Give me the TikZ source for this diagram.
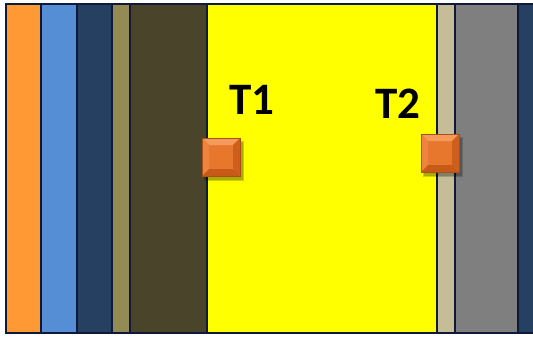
\documentclass[tikz,border=0pt]{standalone}
\usepackage{fontspec}
\newfontfamily\labelfont{Carlito}
\usepackage{tikz}
\usetikzlibrary{calc, positioning}

\definecolor{layorange}{HTML}{FF9933}
\definecolor{layblue}{HTML}{558ED5}
\definecolor{laynavy}{HTML}{254061}
\definecolor{layolive}{HTML}{948A54}
\definecolor{laybrown}{HTML}{4A452A}
\definecolor{layyellow}{HTML}{FFFF00}
\definecolor{laybeige}{HTML}{C4BD97}
\definecolor{laygray}{HTML}{7F7F7F}
\definecolor{edgenavy}{HTML}{0F1A3A}
\definecolor{cubeface}{HTML}{E8772E}
\definecolor{cubelight}{HTML}{F49A5A}
\definecolor{cubemid}{HTML}{EE8440}
\definecolor{cubedark}{HTML}{C85A18}
\definecolor{cubeedge}{HTML}{A8501A}

\begin{document}
\begin{tikzpicture}[
    x=1pt, y=-1pt,
    layer/.style={draw=edgenavy, line width=1.4pt},
    cube/.style={rectangle, draw=cubeedge, line width=0.6pt, fill=cubeface, minimum size=38pt, inner sep=0pt, outer sep=0pt},
    cubeshadow/.style={fill=black, opacity=0.18},
    templabel/.style={font=\labelfont\bfseries\fontsize{45}{45}\selectfont, text=black, inner sep=0pt}
]
\useasboundingbox (0,0) rectangle (533,337);

% --- wall layers ---
\foreach \xa/\xb/\col in {6/41/layorange, 41/77/layblue, 77/112/laynavy, 112/130/layolive,
                          130/207/laybrown, 207/437/layyellow, 437/455/laybeige,
                          455/518/laygray, 518/540/laynavy}
  \filldraw[layer, fill=\col] (\xa,4) rectangle (\xb,333);

% --- sensors ---
\foreach \name/\xa/\ya in {t1/202/138, t2/421/134} {
  \fill[cubeshadow] (\xa+2,\ya+3) rectangle ++(40,40);
  \fill[cubeshadow] (\xa+3,\ya+4) rectangle ++(38,38);
  \node[cube] (\name) at (\xa+19,\ya+19) {};
  \fill[cubelight] (\name.north west) -- (\name.north east) -- ($(\name.north east)+(-7,7)$) -- ($(\name.north west)+(7,7)$) -- cycle;
  \fill[cubemid] (\name.north west) -- (\name.south west) -- ($(\name.south west)+(7,-7)$) -- ($(\name.north west)+(7,7)$) -- cycle;
  \fill[cubedark] (\name.south west) -- (\name.south east) -- ($(\name.south east)+(-7,-7)$) -- ($(\name.south west)+(7,-7)$) -- cycle;
  \fill[cubedark!85!cubeface] (\name.north east) -- (\name.south east) -- ($(\name.south east)+(-7,-7)$) -- ($(\name.north east)+(-7,7)$) -- cycle;
  \draw[cubeedge, line width=0.6pt] (\name.north west) rectangle (\name.south east);
}

% --- labels ---
\node[templabel] (lab1) at (252,100) {T1};
\node[templabel] (lab2) at (398,104) {T2};
\end{tikzpicture}
\end{document}
